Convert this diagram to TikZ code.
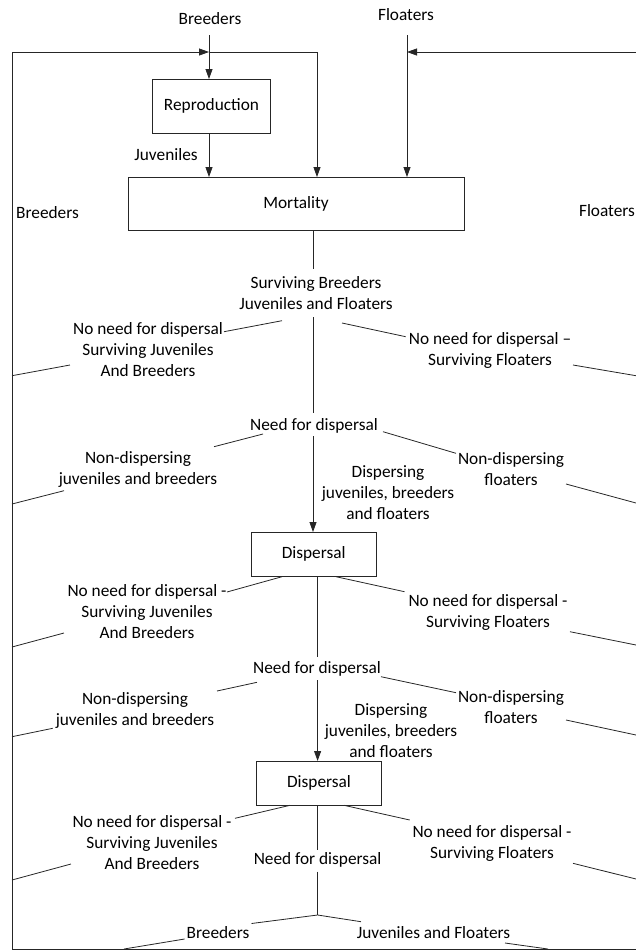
\documentclass[tikz,border=0pt]{standalone}
\usepackage{fontspec}
\setmainfont{Carlito}
\usetikzlibrary{arrows.meta}
\begin{document}
\begin{tikzpicture}[x=1pt,y=-1pt,
  ln/.style={draw=black!85,line width=0.8pt},
  arr/.style={ln,-{Triangle[length=10pt,width=7pt]}},
  boxnode/.style={draw=black!85,line width=0.8pt,inner sep=0,font=\fontsize{17.3}{21}\selectfont},
  lbl/.style={inner sep=0,align=center,font=\fontsize{17.3}{21}\selectfont}]
\useasboundingbox (0,0) rectangle (636,951);

% boxes
\node[boxnode,minimum width=118pt,minimum height=54pt] (rep) at (211.5,106) {Reproduction};
\node[boxnode,minimum width=336pt,minimum height=53pt] (mort) at (296,203.5) {Mortality};
\node[boxnode,minimum width=125.5pt,minimum height=44pt] (disp1) at (313.7,554) {Dispersal};
\node[boxnode,minimum width=125pt,minimum height=44pt] (disp2) at (319,783) {Dispersal};

% labels
\node[lbl] (tb) at (210,19) {Breeders};
\node[lbl] (tf) at (406,15) {Floaters};
\node[lbl] (juv) at (166,155) {Juveniles};
\node[lbl] (lb) at (47.5,213) {Breeders};
\node[lbl] (rf) at (607,211) {Floaters};
\node[lbl] (surv) at (316,293.5) {Surviving Breeders\\Juveniles and Floaters};
\node[lbl] (nn1l) at (148,349.5) {No need for dispersal\\Surviving Juveniles\\And Breeders};
\node[lbl] (nn1r) at (490,350.5) {No need for dispersal –\\Surviving Floaters};
\node[lbl] (need1) at (314,426) {Need for dispersal};
\node[lbl] (nd1l) at (138,469) {Non-dispersing\\juveniles and breeders};
\node[lbl] (nd1r) at (511,469) {Non-dispersing\\floaters};
\node[lbl] (d1) at (388,492.5) {Dispersing\\juveniles, breeders\\and floaters};
\node[lbl] (nn2l) at (147,612) {No need for dispersal -\\Surviving Juveniles\\And Breeders};
\node[lbl] (nn2r) at (488,612.5) {No need for dispersal -\\Surviving Floaters};
\node[lbl] (need2) at (317,669) {Need for dispersal};
\node[lbl] (nd2l) at (135,710) {Non-dispersing\\juveniles and breeders};
\node[lbl] (nd2r) at (511,707) {Non-dispersing\\floaters};
\node[lbl] (d2) at (391,731) {Dispersing\\juveniles, breeders\\and floaters};
\node[lbl] (nn3l) at (152,843) {No need for dispersal -\\Surviving Juveniles\\And Breeders};
\node[lbl] (nn3r) at (492,843) {No need for dispersal -\\Surviving Floaters};
\node[lbl] (need3) at (317.6,860) {Need for dispersal};
\node[lbl] (bb) at (218,933) {Breeders};
\node[lbl] (bjf) at (433.5,933) {Juveniles and Floaters};

% top arrows
\draw[arr] (209,35) coordinate (tbs) -- (209,79);
\draw[arr] (407,35) coordinate (tfs) -- (407,177);
\draw[arr] (209,133) -- (209,177);
% breeder loop
\draw[ln] (636,949) coordinate (br) -- (12,949) coordinate (bl) -- (12,52) coordinate (tl);
\draw[arr] (tl) -- (209,52) coordinate (tj);
\draw[arr] (tj) -- (317,52) -- (317,177);
% floater loop
\draw[arr] (636,52) coordinate (tr) -- (407,52);

% stage 1
\draw[ln] (313,230) -- (313,269);
\draw[ln] (313,317) -- (313,412.7);
\draw[arr] (313,436) -- (313,532);
\draw[ln] (282,320.7) -- (224,331.7);
\draw[ln] (342,323) -- (405.7,336.7);
\draw[ln] (12,375.7) -- (70,365);
\draw[ln] (573,365) -- (636,375.7);
\draw[ln] (263,434) -- (214,446.7);
\draw[ln] (383,431.7) -- (456,453.3);
\draw[ln] (12,504) -- (64,490.7);
\draw[ln] (566,484) -- (636,503);

% stage 2
\draw[ln] (317.6,576) -- (317.6,657);
\draw[arr] (317.6,680) -- (317.6,761);
\draw[ln] (282,576.7) -- (227,592);
\draw[ln] (336,576.7) -- (404.5,591.7);
\draw[ln] (12,647) -- (64,633);
\draw[ln] (570,631.7) -- (636,645);
\draw[ln] (257,682.3) -- (217,691);
\draw[ln] (381,676.7) -- (456,692.7);
\draw[ln] (12,736.7) -- (52.7,728.3);
\draw[ln] (566,720) -- (636,735);

% stage 3
\draw[ln] (317.6,805) -- (317.6,850);
\draw[ln] (317.6,871.7) -- (317.6,915) coordinate (fork);
\draw[ln] (290,805.3) -- (235,818.3);
\draw[ln] (344,805.3) -- (409.7,820);
\draw[ln] (12,880) -- (71,864);
\draw[ln] (573,863.3) -- (636,879);
\draw[ln] (fork) -- (251.5,923.5);
\draw[ln] (fork) -- (361,921.7);
\draw[ln] (184.6,939) -- (124,949);
\draw[ln] (505,943) -- (548,949);
\end{tikzpicture}
\end{document}
